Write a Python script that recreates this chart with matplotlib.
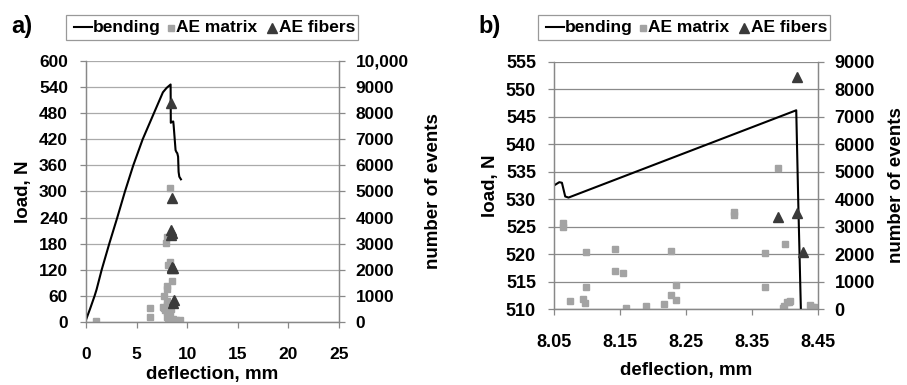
import matplotlib
matplotlib.use("Agg")
import matplotlib.pyplot as plt
from matplotlib.lines import Line2D
from matplotlib.patches import Rectangle
from matplotlib.ticker import FixedLocator, FuncFormatter

plt.rcParams['font.family'] = ['Liberation Sans', 'DejaVu Sans']
plt.rcParams['font.weight'] = 'bold'

# ---------------- Panel a data ----------------
a_bend_x = [0, 0.4, 0.85, 1.05, 1.55, 2.3, 3.09, 3.85, 4.67, 5.6, 6.71, 7.6, 7.96, 8.36,
            8.38, 8.5, 8.62, 8.66, 8.75, 8.85, 8.95, 9.02, 9.1, 9.15, 9.22, 9.38]
a_bend_y = [5, 30, 60, 75, 120, 180, 240, 300, 360, 420, 480, 528, 538, 546,
            458, 460, 461, 452, 425, 395, 390, 388, 380, 345, 334, 328]

a_mat_x = [0.99, 6.32, 6.32, 8.29, 7.96, 7.86, 8.13, 8.29, 8.45, 7.96, 7.96, 7.73, 7.96,
           7.63, 7.75, 7.85, 8.0, 8.1, 8.2, 8.3, 8.05, 8.15, 8.25, 8.4, 8.5, 8.6, 8.7,
           8.8, 8.9, 9.0, 9.1, 9.2, 9.3, 8.35, 8.55, 8.75, 8.95, 8.0, 8.2, 8.4]
a_mat_y = [50, 525, 180, 5120, 3245, 3015, 2185, 2285, 1570, 1380, 1250, 1008, 805,
           590, 520, 450, 400, 350, 300, 250, 200, 150, 100, 80, 60, 120, 40,
           30, 70, 50, 20, 40, 60, 10, 10, 10, 10, 650, 700, 500]

a_fib_x = [8.36, 8.52, 8.39, 8.45, 8.39, 8.52, 8.55, 8.45, 8.69, 8.62]
a_fib_y = [8380, 4740, 3525, 3400, 3320, 2120, 2060, 2060, 843, 715]

a_left_ticks = [0, 60, 120, 180, 240, 300, 360, 420, 480, 540, 600]
a_right_ticks = [0, 1000, 2000, 3000, 4000, 5000, 6000, 7000, 8000, 9000, 10000]
a_x_ticks = [0, 5, 10, 15, 20, 25]

# ---------------- Panel b data ----------------
b_bend_x = [8.05, 8.058, 8.062, 8.065, 8.067, 8.072, 8.417, 8.420, 8.424, 8.426]
b_bend_y = [532.5, 533.1, 533.0, 531.5, 530.5, 530.3, 546.2, 529.8, 510.0, 505.0]

b_mat_x = [8.063, 8.063, 8.0736, 8.0938, 8.0963, 8.0988, 8.0988, 8.1427, 8.1422, 8.155,
           8.159, 8.189, 8.217, 8.2269, 8.2269, 8.2344, 8.2344, 8.3226, 8.3226, 8.390,
           8.370, 8.370, 8.400, 8.397, 8.399, 8.403, 8.406, 8.408, 8.438, 8.441, 8.444, 8.447]
b_mat_y = [3120, 2990, 292, 365, 234, 793, 2082, 2191, 1388, 1304,
           40, 99, 172, 2107, 500, 866, 343, 3550, 3420, 5128,
           2046, 793, 2352, 50, 120, 256, 270, 280, 135, 90, 60, 50]

b_fib_x = [8.4183, 8.390, 8.4178, 8.4273]
b_fib_y = [8451, 3360, 3484, 2082]

b_left_ticks = [510, 515, 520, 525, 530, 535, 540, 545, 550, 555]
b_right_ticks = [0, 1000, 2000, 3000, 4000, 5000, 6000, 7000, 8000, 9000]
b_x_ticks = [8.05, 8.15, 8.25, 8.35, 8.45]

legend_labels = ['bending', 'AE matrix', 'AE fibers']

MAT_C = '#a3a3a3'
FIB_C = '#3a3a3a'
SPINE_C = '#888888'
LAB_FS = 13.5

W, H = 907, 385
fig = plt.figure(figsize=(W / 100, H / 100), dpi=100)


def fx(px):
    return px / W


def fy(py):
    return 1 - py / H


def style(ax, ax2, gridc, fs):
    for a in (ax, ax2):
        for s in a.spines.values():
            s.set_color(SPINE_C)
            s.set_linewidth(0.9)
        a.spines['top'].set_visible(False)
    ax.tick_params(axis='both', direction='out', length=4, width=0.9, color=SPINE_C,
                   labelsize=fs)
    ax.tick_params(axis='x', pad=14)
    ax.tick_params(axis='y', pad=9)
    ax2.tick_params(axis='y', direction='out', length=4, width=0.9, color=SPINE_C,
                    labelsize=fs, pad=8)
    for lab in ax.get_xticklabels() + ax.get_yticklabels() + ax2.get_yticklabels():
        lab.set_fontweight('bold')
    ax.yaxis.grid(True, color=gridc, linewidth=0.9)
    ax.set_axisbelow(True)


def legend(left):
    top, bot = 15, 40
    width = 292
    yc = 27.5
    fig.add_artist(Rectangle((fx(left), fy(bot)), fx(width), fy(top) - fy(bot),
                             transform=fig.transFigure, fill=False,
                             edgecolor='#999999', linewidth=0.9))
    fig.add_artist(Line2D([fx(left + 8), fx(left + 26)], [fy(yc - 0.5), fy(yc - 0.5)],
                          transform=fig.transFigure, color='black', lw=1.5))
    fig.add_artist(Line2D([fx(left + 105)], [fy(yc)], transform=fig.transFigure,
                          ls='none', marker='s', color=MAT_C, markersize=4))
    fig.add_artist(Line2D([fx(left + 206)], [fy(yc)], transform=fig.transFigure,
                          ls='none', marker='^', color=FIB_C, markersize=7))
    for off, lab in zip([27, 110, 213], legend_labels):
        fig.text(fx(left + off), fy(yc), lab, fontsize=12.5, fontweight='bold',
                 ha='left', va='center')


# ---------- Panel a ----------
axa = fig.add_axes([0.0948, 0.1636, 0.2790, 0.6780])
axa2 = axa.twinx()
axa.plot(a_bend_x, a_bend_y, color='black', lw=1.5, zorder=3)
axa2.plot(a_mat_x, a_mat_y, ls='none', marker='s', color=MAT_C, markersize=4)
axa2.plot(a_fib_x, a_fib_y, ls='none', marker='^', color=FIB_C, markersize=7)
axa.set_xlim(0, 25)
axa.set_ylim(0, 600)
axa2.set_ylim(0, 10000)
axa.xaxis.set_major_locator(FixedLocator(a_x_ticks))
axa.yaxis.set_major_locator(FixedLocator(a_left_ticks))
axa2.yaxis.set_major_locator(FixedLocator(a_right_ticks))
axa2.yaxis.set_major_formatter(FuncFormatter(lambda v, p: '10,000' if v >= 10000 else f'{int(v)}'))
style(axa, axa2, '#aaaaaa', 12.5)
axa.set_xlabel('deflection, mm', fontsize=LAB_FS, fontweight='bold', labelpad=3)
axa.set_ylabel('load, N', fontsize=LAB_FS, fontweight='bold', labelpad=5)
axa2.set_ylabel('number of events', fontsize=LAB_FS, fontweight='bold', labelpad=12)
fig.text(0.012, 0.932, 'a)', fontsize=17, fontweight='bold', va='center', ha='left')
legend(66)

# ---------- Panel b ----------
axb = fig.add_axes([0.6108, 0.1974, 0.2911, 0.6416])
axb2 = axb.twinx()
axb.plot(b_bend_x, b_bend_y, color='black', lw=1.5, zorder=3)
axb2.plot(b_mat_x, b_mat_y, ls='none', marker='s', color=MAT_C, markersize=4)
axb2.plot(b_fib_x, b_fib_y, ls='none', marker='^', color=FIB_C, markersize=7)
axb.set_xlim(8.05, 8.45)
axb.set_ylim(510, 555)
axb2.set_ylim(0, 9000)
axb.xaxis.set_major_locator(FixedLocator(b_x_ticks))
axb.xaxis.set_major_formatter(FuncFormatter(lambda v, p: f'{v:.2f}'))
axb.yaxis.set_major_locator(FixedLocator(b_left_ticks))
axb2.yaxis.set_major_locator(FixedLocator(b_right_ticks))
style(axb, axb2, '#8a8a8a', 13)
axb.set_xlabel('deflection, mm', fontsize=LAB_FS, fontweight='bold', labelpad=8)
axb.set_ylabel('load, N', fontsize=LAB_FS, fontweight='bold', labelpad=5)
axb2.set_ylabel('number of events', fontsize=LAB_FS, fontweight='bold', labelpad=9)
fig.text(0.527, 0.932, 'b)', fontsize=17, fontweight='bold', va='center', ha='left')
legend(538)

fig.savefig('out.png', dpi=100)
